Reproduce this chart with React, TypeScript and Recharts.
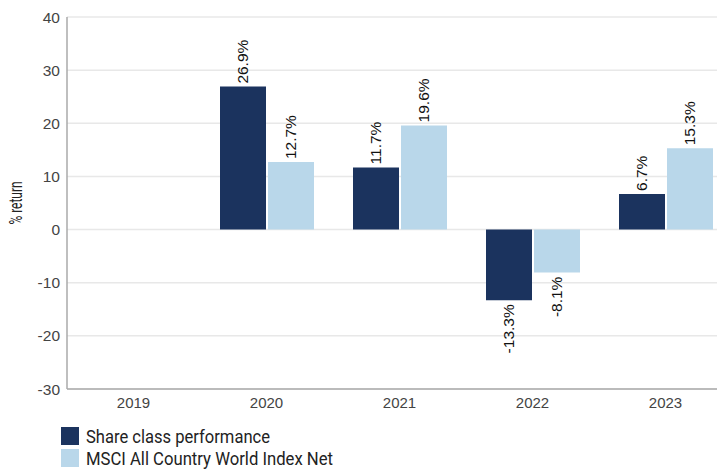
import React from 'react';
import { BarChart, Bar, XAxis, YAxis, CartesianGrid, LabelList, Label } from 'recharts';

const categories = ['2019', '2020', '2021', '2022', '2023'];
const shareClass: (number | null)[] = [null, 26.9, 11.7, -13.3, 6.7];
const msciIndex: (number | null)[] = [null, 12.7, 19.6, -8.1, 15.3];
const yTicks = [-30, -20, -10, 0, 10, 20, 30, 40];
const seriesNames = ['Share class performance', 'MSCI All Country World Index Net'];
const seriesColors = ['#1b335e', '#b9d7ea'];
const seriesKeys = ['share', 'msci'];
const legendTextWidths = [184, 247];

const data = categories.map((c, i) => ({ year: c, share: shareClass[i], msci: msciIndex[i] }));

const condensed = 'Roboto, sans-serif';
const regular = '"Liberation Sans", Arial, sans-serif';

const BarLabel = (props: any) => {
  const { x, y, width, height, value } = props;
  if (value === null || value === undefined) return null;
  const cx = Number(x) + Number(width) / 2;
  const top = Math.min(Number(y), Number(y) + Number(height));
  const bottom = Math.max(Number(y), Number(y) + Number(height));
  const pos = Number(value) >= 0;
  const ty = pos ? top - 3 : bottom + 4;
  return (
    <text
      x={cx}
      y={ty}
      transform={`rotate(-90 ${cx} ${ty})`}
      textAnchor={pos ? 'start' : 'end'}
      dominantBaseline="central"
      fontFamily={regular}
      fontSize={15.5}
      fill="#111"
    >
      {`${Number(value).toFixed(1)}%`}
    </text>
  );
};

const YLabel = (props: any) => {
  const vb = props.viewBox || {};
  const cy = vb.y + vb.height / 2;
  const cx = 15;
  return (
    <text
      x={cx}
      y={cy}
      transform={`rotate(-90 ${cx} ${cy})`}
      textAnchor="middle"
      dominantBaseline="central"
      fontFamily={condensed}
      fontSize={18}
      textLength={43}
      lengthAdjust="spacingAndGlyphs"
      fill="#222"
    >
      % return
    </text>
  );
};

export default function App() {
  return (
    <div style={{ marginLeft: -8, marginTop: -8, width: 725, height: 470, overflow: 'hidden', position: 'relative', background: '#fff' }}>
      <BarChart
        width={740}
        height={470}
        data={data}
        margin={{ top: 17, right: 8, bottom: 0, left: 0 }}
        barGap={2}
        barCategoryGap={20}
      >
        <CartesianGrid vertical={false} stroke="#e8e8e8" strokeWidth={1.5} />
        <XAxis
          dataKey="year"
          height={81}
          tickLine={false}
          tickSize={0}
          tickMargin={8}
          axisLine={{ stroke: '#aaaaaa', strokeWidth: 1.5 }}
          tick={{ fill: '#444', fontSize: 15, fontFamily: regular }}
          interval={0}
        />
        <YAxis
          width={67}
          domain={[-30, 40]}
          ticks={yTicks}
          tickLine={false}
          tickSize={0}
          tickMargin={7}
          axisLine={{ stroke: '#aaaaaa', strokeWidth: 1.5 }}
          tick={{ fill: '#444', fontSize: 15.5, fontFamily: regular }}
          allowDataOverflow
        >
          <Label content={<YLabel />} />
        </YAxis>
        {seriesKeys.map((k, i) => (
          <Bar key={k} dataKey={k} name={seriesNames[i]} fill={seriesColors[i]} isAnimationActive={false}>
            <LabelList dataKey={k} content={<BarLabel />} />
          </Bar>
        ))}
      </BarChart>
      <svg width={400} height={45} style={{ position: 'absolute', left: 0, top: 425 }}>
        {seriesNames.map((n, i) => (
          <g key={n}>
            <rect x={61} y={2 + i * 22} width={18} height={18} fill={seriesColors[i]} />
            <text
              x={86}
              y={11 + i * 22}
              dominantBaseline="central"
              fontFamily={condensed}
              fontSize={19}
              fill="#222"
              textLength={legendTextWidths[i]}
              lengthAdjust="spacingAndGlyphs"
            >
              {n}
            </text>
          </g>
        ))}
      </svg>
    </div>
  );
}
